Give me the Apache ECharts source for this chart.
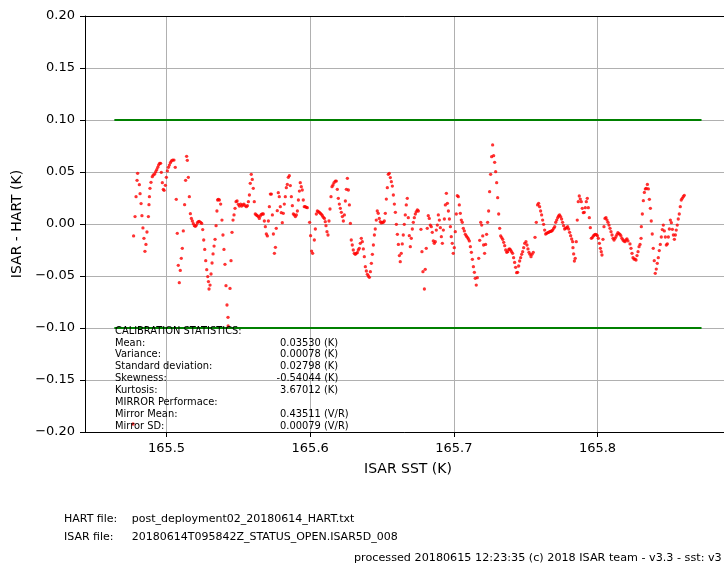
<!DOCTYPE html>
<html>
<head>
<meta charset="utf-8">
<title>ISAR - HART calibration</title>
<script src="https://cdn.jsdelivr.net/npm/echarts@6/dist/echarts.min.js"></script>
<style>
  html, body { margin: 0; padding: 0; background: #ffffff; }
  #chart { width: 724px; height: 568px; }
</style>
</head>
<body>
<div id="chart"></div>
<script>
// ISAR SST (K) against ISAR - HART difference (K), split into runs along the SST sweep
const sweepA = [
  [165.4767, -0.1923],
  [165.4771, -0.0115], [165.4781, 0.0071], [165.4788, 0.0263], [165.4795, 0.0420], [165.4799, 0.0487],
  [165.4811, 0.0378], [165.4816, 0.0292], [165.4823, 0.0196], [165.4829, 0.0080], [165.4836, -0.0038],
  [165.4843, -0.0138], [165.4850, -0.0263], [165.4857, -0.0196], [165.4864, -0.0077], [165.4874, 0.0071],
  [165.4878, 0.0186], [165.4881, 0.0263], [165.4885, 0.0343], [165.4892, 0.0401], [165.4901, 0.0455],
  [165.4908, 0.0471], [165.4918, 0.0481], [165.4925, 0.0503], [165.4932, 0.0522], [165.4939, 0.0545],
  [165.4945, 0.0567], [165.4952, 0.0583], [165.4959, 0.0583], [165.4964, 0.0497], [165.4971, 0.0397],
  [165.4978, 0.0333], [165.4983, 0.0324], [165.4992, 0.0372], [165.4999, 0.0449], [165.5006, 0.0510],
  [165.5013, 0.0545], [165.5020, 0.0567], [165.5027, 0.0590], [165.5034, 0.0606], [165.5043, 0.0615],
  [165.5052, 0.0615], [165.5061, 0.0545]
];
const sweepB = [
  [165.5068, 0.0237], [165.5075, -0.0090], [165.5082, -0.0397], [165.5089, -0.0564], [165.5096, -0.0446],
  [165.5103, -0.0330], [165.5110, -0.0234], [165.5117, -0.0067], [165.5126, 0.0186], [165.5133, 0.0420],
  [165.5140, 0.0651], [165.5145, 0.0612], [165.5152, 0.0449], [165.5159, 0.0263], [165.5166, 0.0099],
  [165.5173, 0.0054], [165.5180, 0.0029], [165.5187, 0.0003], [165.5194, -0.0016], [165.5201, -0.0022],
  [165.5208, -0.0010], [165.5215, 0.0013], [165.5222, 0.0022], [165.5228, 0.0026], [165.5238, 0.0016],
  [165.5245, 0.0006], [165.5252, -0.0054], [165.5259, -0.0154], [165.5266, -0.0244], [165.5273, -0.0353],
  [165.5280, -0.0439], [165.5287, -0.0506], [165.5292, -0.0554], [165.5296, -0.0625]
];
const sweepC = [
  [165.5303, -0.0587], [165.5310, -0.0481], [165.5317, -0.0375], [165.5324, -0.0288], [165.5331, -0.0212],
  [165.5338, -0.0147], [165.5345, -0.0016], [165.5351, 0.0125], [165.5356, 0.0231], [165.5361, 0.0237],
  [165.5368, 0.0231], [165.5377, 0.0192], [165.5386, 0.0038], [165.5393, -0.0106], [165.5400, -0.0244],
  [165.5407, -0.0388], [165.5414, -0.0593], [165.5421, -0.0779], [165.5428, -0.0897], [165.5429, -0.0981],
  [165.5442, -0.0619], [165.5449, -0.0353], [165.5456, -0.0080], [165.5463, 0.0038], [165.5470, 0.0087],
  [165.5477, 0.0151], [165.5484, 0.0215], [165.5491, 0.0221], [165.5500, 0.0189], [165.5507, 0.0173],
  [165.5516, 0.0192], [165.5523, 0.0173], [165.5530, 0.0183], [165.5539, 0.0192], [165.5546, 0.0176],
  [165.5556, 0.0167], [165.5563, 0.0176], [165.5570, 0.0215], [165.5577, 0.0279], [165.5583, 0.0391],
  [165.5590, 0.0478], [165.5597, 0.0429], [165.5604, 0.0343], [165.5611, 0.0215], [165.5618, 0.0096],
  [165.5625, 0.0087], [165.5632, 0.0080], [165.5639, 0.0071], [165.5646, 0.0054], [165.5653, 0.0077],
  [165.5660, 0.0093], [165.5667, 0.0096], [165.5674, 0.0096], [165.5681, 0.0029], [165.5688, -0.0026],
  [165.5695, -0.0096], [165.5702, -0.0115]
];
const sweepD = [
  [165.5709, 0.0029], [165.5716, 0.0167], [165.5723, 0.0288], [165.5730, 0.0288], [165.5737, 0.0087],
  [165.5744, -0.0096], [165.5751, -0.0282], [165.5758, -0.0224], [165.5764, -0.0042], [165.5771, 0.0128],
  [165.5778, 0.0301], [165.5785, 0.0263], [165.5792, 0.0167], [165.5799, 0.0109], [165.5806, 0.0013],
  [165.5813, 0.0103], [165.5820, 0.0192], [165.5827, 0.0263], [165.5834, 0.0349], [165.5841, 0.0381],
  [165.5848, 0.0449], [165.5855, 0.0465], [165.5862, 0.0369], [165.5869, 0.0263], [165.5876, 0.0176],
  [165.5883, 0.0096], [165.5890, 0.0087], [165.5897, 0.0071], [165.5904, 0.0087], [165.5911, 0.0125],
  [165.5918, 0.0231], [165.5925, 0.0317], [165.5931, 0.0397], [165.5938, 0.0359], [165.5945, 0.0327],
  [165.5952, 0.0231], [165.5959, 0.0167], [165.5966, 0.0167], [165.5973, 0.0160], [165.5980, 0.0157],
  [165.5996, 0.0016], [165.6003, -0.0112], [165.6010, -0.0260], [165.6017, -0.0282]
];
const sweepE = [
  [165.6029, -0.0154], [165.6036, -0.0048], [165.6043, 0.0096], [165.6050, 0.0125], [165.6057, 0.0119],
  [165.6064, 0.0112], [165.6071, 0.0103], [165.6078, 0.0093], [165.6085, 0.0080], [165.6092, 0.0064],
  [165.6099, 0.0054], [165.6105, 0.0022], [165.6110, -0.0016], [165.6117, -0.0074], [165.6124, -0.0106],
  [165.6131, 0.0029], [165.6138, 0.0144], [165.6145, 0.0263], [165.6152, 0.0359], [165.6159, 0.0375],
  [165.6166, 0.0397], [165.6175, 0.0413], [165.6182, 0.0413], [165.6189, 0.0333], [165.6196, 0.0247],
  [165.6203, 0.0192], [165.6210, 0.0151], [165.6217, 0.0112], [165.6224, 0.0071], [165.6231, 0.0029],
  [165.6238, 0.0087], [165.6245, 0.0221], [165.6252, 0.0333], [165.6259, 0.0439], [165.6266, 0.0327],
  [165.6273, 0.0183], [165.6280, 0.0006], [165.6286, -0.0154], [165.6293, -0.0202], [165.6300, -0.0250],
  [165.6307, -0.0282], [165.6314, -0.0292], [165.6321, -0.0282], [165.6328, -0.0276], [165.6335, -0.0250],
  [165.6342, -0.0234], [165.6349, -0.0186], [165.6356, -0.0138], [165.6363, -0.0170], [165.6370, -0.0240],
  [165.6377, -0.0314], [165.6384, -0.0410], [165.6391, -0.0452], [165.6398, -0.0484], [165.6405, -0.0500],
  [165.6412, -0.0513], [165.6419, -0.0458], [165.6426, -0.0378], [165.6433, -0.0292], [165.6440, -0.0202],
  [165.6447, -0.0106], [165.6453, -0.0048], [165.6460, 0.0038], [165.6467, 0.0125], [165.6474, 0.0103],
  [165.6481, 0.0054], [165.6488, 0.0022], [165.6495, 0.0010], [165.6502, 0.0016], [165.6509, 0.0016]
];
const sweepF = [
  [165.6516, 0.0029], [165.6523, 0.0103], [165.6530, 0.0240], [165.6537, 0.0349], [165.6544, 0.0478],
  [165.6551, 0.0487], [165.6558, 0.0446], [165.6565, 0.0407], [165.6572, 0.0365], [165.6579, 0.0279],
  [165.6586, 0.0192], [165.6593, 0.0112], [165.6600, -0.0003], [165.6607, -0.0099], [165.6614, -0.0196],
  [165.6621, -0.0304], [165.6627, -0.0362], [165.6634, -0.0282], [165.6641, -0.0192], [165.6648, -0.0106],
  [165.6655, -0.0003], [165.6662, 0.0087], [165.6669, 0.0183], [165.6676, 0.0247], [165.6683, 0.0061],
  [165.6690, -0.0112], [165.6697, -0.0218], [165.6704, -0.0138], [165.6711, -0.0048], [165.6718, 0.0016],
  [165.6725, 0.0061], [165.6732, 0.0096], [165.6739, 0.0119], [165.6746, 0.0135], [165.6753, 0.0125],
  [165.6771, -0.0051], [165.6778, -0.0266], [165.6785, -0.0458], [165.6795, -0.0625], [165.6801, -0.0436],
  [165.6808, -0.0234], [165.6815, -0.0042], [165.6822, 0.0080], [165.6829, 0.0054], [165.6836, -0.0010],
  [165.6843, -0.0026], [165.6850, -0.0080], [165.6857, -0.0163], [165.6864, -0.0186], [165.6871, -0.0170],
  [165.6878, -0.0058], [165.6885, -0.0010], [165.6892, 0.0087], [165.6899, 0.0038], [165.6906, -0.0035],
  [165.6913, -0.0122], [165.6920, -0.0186], [165.6927, -0.0058], [165.6934, 0.0048], [165.6941, 0.0183],
  [165.6948, 0.0295], [165.6955, 0.0199], [165.6962, 0.0125], [165.6969, 0.0048], [165.6976, -0.0026],
  [165.6982, -0.0122], [165.6989, -0.0186], [165.6996, -0.0282]
];
const sweepG = [
  [165.7003, -0.0228], [165.7010, -0.0074], [165.7017, 0.0096], [165.7024, 0.0272], [165.7031, 0.0263],
  [165.7038, 0.0183], [165.7045, 0.0103], [165.7052, 0.0038], [165.7059, 0.0016], [165.7066, -0.0042],
  [165.7073, -0.0067], [165.7080, -0.0099], [165.7087, -0.0115], [165.7094, -0.0128], [165.7101, -0.0144],
  [165.7108, -0.0163], [165.7115, -0.0218], [165.7122, -0.0272], [165.7129, -0.0340], [165.7136, -0.0410],
  [165.7143, -0.0465], [165.7149, -0.0522], [165.7156, -0.0587], [165.7163, -0.0516], [165.7173, -0.0330],
  [165.7180, -0.0157], [165.7187, 0.0016], [165.7194, -0.0010], [165.7201, -0.0115], [165.7207, -0.0202],
  [165.7214, -0.0282], [165.7221, -0.0196], [165.7228, -0.0099], [165.7235, 0.0016], [165.7242, 0.0125],
  [165.7249, 0.0311], [165.7256, 0.0478], [165.7263, 0.0647], [165.7270, 0.0760], [165.7277, 0.0657],
  [165.7284, 0.0593], [165.7291, 0.0503], [165.7298, 0.0397], [165.7305, 0.0253], [165.7312, 0.0096],
  [165.7319, -0.0042], [165.7326, -0.0115], [165.7333, -0.0131], [165.7340, -0.0147], [165.7347, -0.0176],
  [165.7354, -0.0208], [165.7361, -0.0250], [165.7368, -0.0272], [165.7375, -0.0266], [165.7382, -0.0244],
  [165.7388, -0.0240], [165.7395, -0.0250], [165.7402, -0.0266], [165.7409, -0.0282], [165.7416, -0.0324],
  [165.7423, -0.0369], [165.7430, -0.0417], [165.7437, -0.0468], [165.7444, -0.0465], [165.7451, -0.0404],
  [165.7458, -0.0356], [165.7465, -0.0324], [165.7472, -0.0292], [165.7479, -0.0266], [165.7486, -0.0228],
  [165.7493, -0.0186]
];
const sweepH = [
  [165.7502, -0.0170], [165.7509, -0.0202], [165.7516, -0.0240], [165.7523, -0.0272], [165.7530, -0.0292],
  [165.7537, -0.0314], [165.7544, -0.0292], [165.7553, -0.0272], [165.7565, -0.0128], [165.7574, 0.0016],
  [165.7583, 0.0183], [165.7590, 0.0199], [165.7597, 0.0167], [165.7604, 0.0125], [165.7611, 0.0087],
  [165.7618, 0.0038], [165.7625, -0.0003], [165.7632, -0.0058], [165.7639, -0.0096], [165.7646, -0.0090],
  [165.7653, -0.0083], [165.7660, -0.0080], [165.7667, -0.0074], [165.7674, -0.0071], [165.7681, -0.0067],
  [165.7688, -0.0058], [165.7695, -0.0042], [165.7702, -0.0026], [165.7709, 0.0016], [165.7716, 0.0038],
  [165.7723, 0.0061], [165.7729, 0.0077], [165.7736, 0.0087], [165.7743, 0.0071], [165.7750, 0.0048],
  [165.7757, 0.0016], [165.7764, -0.0016], [165.7771, -0.0048], [165.7778, -0.0042], [165.7785, -0.0035],
  [165.7792, -0.0026], [165.7799, -0.0048], [165.7806, -0.0080], [165.7813, -0.0112], [165.7820, -0.0144],
  [165.7827, -0.0170], [165.7829, -0.0228], [165.7834, -0.0288], [165.7839, -0.0356], [165.7845, -0.0330],
  [165.7852, -0.0170], [165.7859, 0.0038], [165.7866, 0.0215], [165.7873, 0.0269], [165.7880, 0.0240],
  [165.7887, 0.0215], [165.7894, 0.0151], [165.7901, 0.0109], [165.7908, 0.0112], [165.7915, 0.0157],
  [165.7922, 0.0215], [165.7929, 0.0247], [165.7936, 0.0157], [165.7943, 0.0061], [165.7950, -0.0035],
  [165.7957, -0.0138], [165.7964, -0.0131], [165.7971, -0.0115], [165.7978, -0.0106], [165.7985, -0.0099],
  [165.7992, -0.0103], [165.7999, -0.0112]
];
const sweepI = [
  [165.8006, -0.0138], [165.8013, -0.0186], [165.8020, -0.0234], [165.8026, -0.0266], [165.8031, -0.0298],
  [165.8038, -0.0147], [165.8045, -0.0026], [165.8052, 0.0054], [165.8059, 0.0061], [165.8066, 0.0038],
  [165.8073, 0.0016], [165.8080, -0.0010], [165.8087, -0.0042], [165.8094, -0.0074], [165.8101, -0.0106],
  [165.8108, -0.0138], [165.8115, -0.0154], [165.8122, -0.0138], [165.8129, -0.0119], [165.8136, -0.0099],
  [165.8142, -0.0083], [165.8149, -0.0093], [165.8156, -0.0099], [165.8163, -0.0115], [165.8170, -0.0138],
  [165.8177, -0.0154], [165.8184, -0.0163], [165.8191, -0.0170], [165.8198, -0.0154], [165.8205, -0.0144],
  [165.8212, -0.0163], [165.8226, -0.0192], [165.8233, -0.0234], [165.8240, -0.0282], [165.8247, -0.0324],
  [165.8254, -0.0337], [165.8261, -0.0337], [165.8268, -0.0346], [165.8275, -0.0304], [165.8282, -0.0266],
  [165.8289, -0.0218], [165.8296, -0.0196], [165.8303, -0.0138], [165.8305, -0.0026], [165.8312, 0.0096],
  [165.8319, 0.0224], [165.8326, 0.0304], [165.8333, 0.0337], [165.8340, 0.0343], [165.8347, 0.0381],
  [165.8354, 0.0337], [165.8361, 0.0237], [165.8368, 0.0151], [165.8374, 0.0029], [165.8381, -0.0096],
  [165.8388, -0.0234], [165.8395, -0.0353], [165.8402, -0.0474], [165.8409, -0.0433], [165.8416, -0.0378],
  [165.8423, -0.0324], [165.8430, -0.0256], [165.8437, -0.0196], [165.8444, -0.0125], [165.8451, -0.0054],
  [165.8458, -0.0010], [165.8465, -0.0067], [165.8472, -0.0125], [165.8479, -0.0202], [165.8486, -0.0192],
  [165.8493, -0.0125], [165.8500, -0.0048], [165.8507, 0.0038], [165.8514, 0.0013], [165.8521, -0.0051],
  [165.8528, -0.0106], [165.8535, -0.0147], [165.8542, -0.0106], [165.8548, -0.0058], [165.8555, -0.0010],
  [165.8562, 0.0048], [165.8569, 0.0096], [165.8576, 0.0167], [165.8583, 0.0231], [165.8590, 0.0247],
  [165.8597, 0.0263], [165.8604, 0.0276]
];

// Acceptance band drawn at +/- 0.1 K across the SST span
const bandSst = [165.4637, 165.8724];
const bandLevels = [0.10, -0.10];

// Axis ranges and tick values
const sstRange = [165.44327, 165.89291];
const sstTicks = [165.5, 165.6, 165.7, 165.8];
const diffRange = [-0.20, 0.20];
const diffStep = 0.05;

// Statistics block and file information
const statLabels = ['CALIBRATION STATISTICS:', 'Mean:', 'Variance:', 'Standard deviation:', 'Skewness:',
  'Kurtosis:', 'MIRROR Performace:', 'Mirror Mean:', 'Mirror SD:'];
const statValues = ['', '0.03530 (K)', '0.00078 (K)', '0.02798 (K)', '-0.54044 (K)',
  '3.67012 (K)', '', '0.43511 (V/R)', '0.00079 (V/R)'];
const fileLabels = ['HART file:', 'ISAR file:'];
const fileNames = ['post_deployment02_20180614_HART.txt', '20180614T095842Z_STATUS_OPEN.ISAR5D_008'];
const processingNote = 'processed 20180615 12:23:35 (c) 2018 ISAR team - v3.3 - sst: v3';

const FONT = '"DejaVu Sans", "Liberation Sans", sans-serif';
const samples = [].concat(sweepA, sweepB, sweepC, sweepD, sweepE, sweepF, sweepG, sweepH, sweepI);

function fmtDiff(v) {
  const r = Math.round(v * 100) / 100;
  if (Math.abs(r) < 1e-9) return '0.00';
  return (r < 0 ? '\u2212' : '') + Math.abs(r).toFixed(2);
}

const graphics = [];
statLabels.forEach(function (label, i) {
  const y = 331 + i * 11.93;
  graphics.push({
    type: 'text', x: 115, y: y, z: 100,
    style: { text: label, font: '9.9px ' + FONT, fill: '#000', verticalAlign: 'middle', align: 'left' }
  });
  if (statValues[i]) {
    const v = statValues[i];
    graphics.push({
      type: 'text', x: v.charAt(0) === '-' ? 276.6 : 280, y: y, z: 100,
      style: { text: v, font: '9.9px ' + FONT, fill: '#000', verticalAlign: 'middle', align: 'left' }
    });
  }
});
fileLabels.forEach(function (label, i) {
  const y = 519.5 + i * 18;
  graphics.push({
    type: 'text', x: 64, y: y,
    style: { text: label, font: '11px ' + FONT, fill: '#000', verticalAlign: 'middle', align: 'left' }
  });
  graphics.push({
    type: 'text', x: 131.7, y: y,
    style: { text: fileNames[i], font: '11px ' + FONT, fill: '#000', verticalAlign: 'middle', align: 'left' }
  });
});
graphics.push({
  type: 'text', x: 354, y: 558.5,
  style: { text: processingNote, font: '11.2px ' + FONT, fill: '#000', verticalAlign: 'middle', align: 'left' }
});

const chart = echarts.init(document.getElementById('chart'), null, { renderer: 'canvas' });
chart.setOption({
  animation: false,
  backgroundColor: '#ffffff',
  textStyle: { fontFamily: FONT },
  grid: {
    left: 85, top: 16, width: 646, height: 416,
    containLabel: false, outerBoundsMode: 'none'
  },
  xAxis: [{
    type: 'value',
    min: sstRange[0], max: sstRange[1], interval: 0.1,
    axisLine: { show: true, onZero: false, lineStyle: { color: '#000', width: 1 } },
    axisTick: { show: true, length: 5, inside: false, customValues: sstTicks, lineStyle: { color: '#000', width: 1 } },
    axisLabel: {
      customValues: sstTicks, margin: 10, fontSize: 13, color: '#000', fontFamily: FONT,
      formatter: function (v) { return v.toFixed(1); }
    },
    splitLine: { show: true, lineStyle: { color: '#b0b0b0', width: 1 } },
    name: 'ISAR SST (K)', nameLocation: 'middle', nameGap: 30,
    nameTextStyle: { fontSize: 14, color: '#000', fontFamily: FONT }
  }, {
    type: 'value', position: 'top',
    min: sstRange[0], max: sstRange[1],
    axisLine: { show: true, onZero: false, lineStyle: { color: '#000', width: 1 } },
    axisTick: { show: false }, axisLabel: { show: false }, splitLine: { show: false }
  }],
  yAxis: {
    type: 'value',
    min: diffRange[0], max: diffRange[1], interval: diffStep,
    axisLine: { show: true, onZero: false, lineStyle: { color: '#000', width: 1 } },
    axisTick: { show: true, length: 5, inside: false, lineStyle: { color: '#000', width: 1 } },
    axisLabel: { margin: 10, fontSize: 13, color: '#000', fontFamily: FONT, formatter: fmtDiff },
    splitLine: { show: true, lineStyle: { color: '#b0b0b0', width: 1 } },
    name: 'ISAR - HART (K)', nameLocation: 'middle', nameGap: 56,
    nameTextStyle: { fontSize: 14, color: '#000', fontFamily: FONT }
  },
  series: [
    {
      type: 'line', name: 'upper', xAxisIndex: 0,
      data: bandSst.map(function (x) { return [x, bandLevels[0]]; }),
      symbol: 'none', lineStyle: { color: '#008000', width: 2 }, z: 3, silent: true
    },
    {
      type: 'line', name: 'lower', xAxisIndex: 0,
      data: bandSst.map(function (x) { return [x, bandLevels[1]]; }),
      symbol: 'none', lineStyle: { color: '#008000', width: 2 }, z: 3, silent: true
    },
    {
      type: 'scatter', name: 'ISAR - HART', xAxisIndex: 0,
      data: samples, symbol: 'circle', symbolSize: 3.3,
      itemStyle: { color: '#ff0000', borderWidth: 0 }, z: 4, silent: true
    }
  ],
  graphic: graphics
});
</script>
</body>
</html>
